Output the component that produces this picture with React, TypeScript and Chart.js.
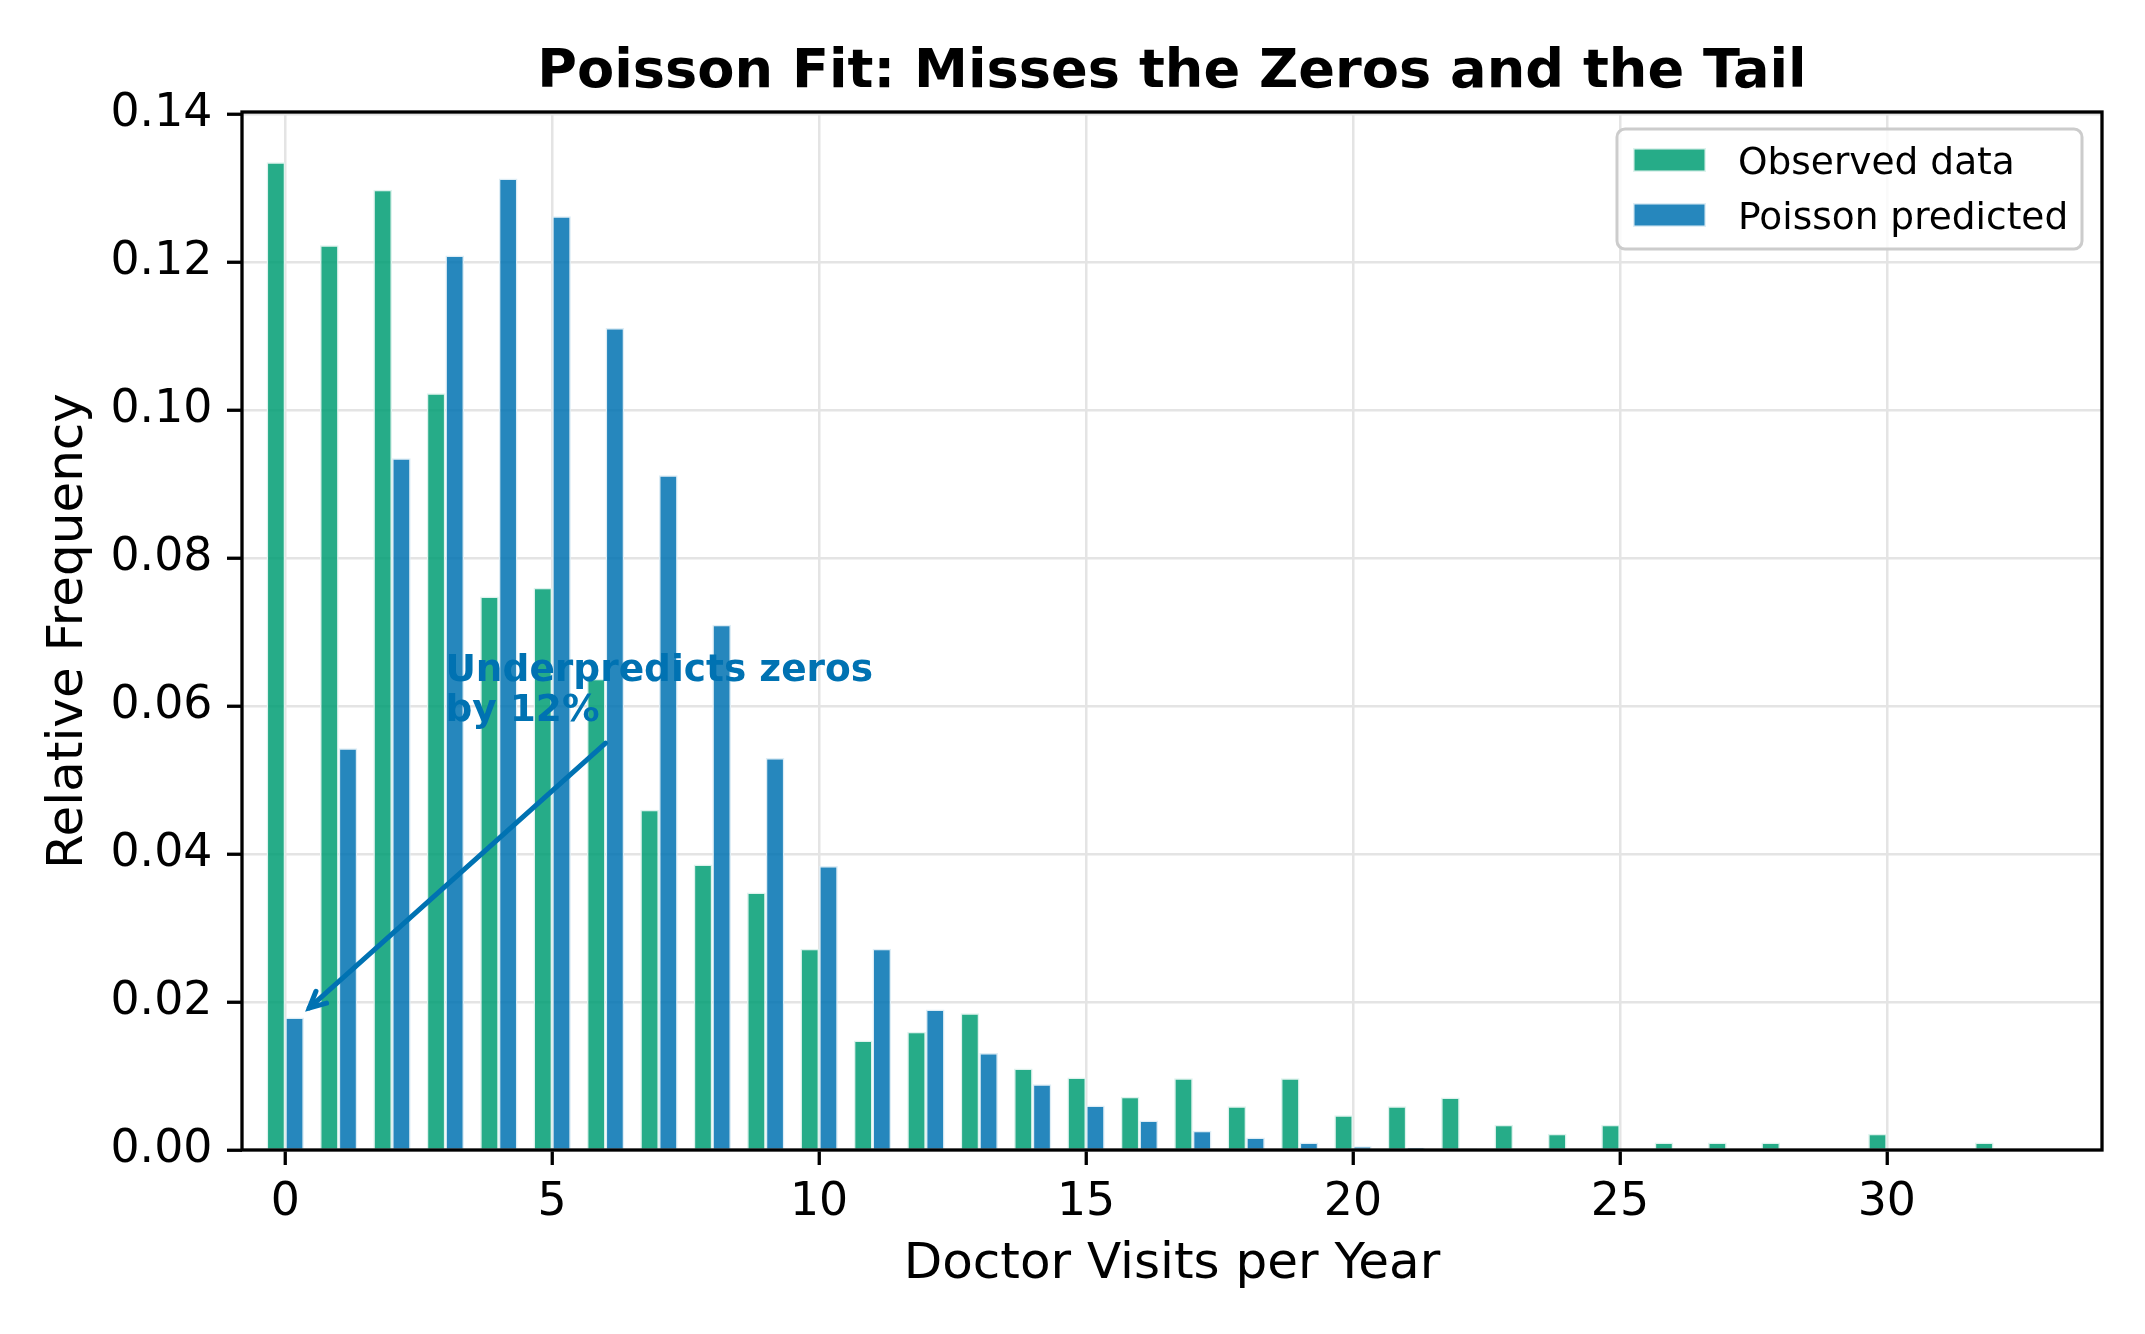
import React, { useEffect, useRef } from "react";
import { Chart, registerables } from "chart.js";

Chart.register(...registerables);

// ---------- data ----------
const visits = [
  0, 1, 2, 3, 4, 5, 6, 7, 8, 9, 10, 11, 12, 13, 14, 15, 16, 17, 18, 19, 20,
  21, 22, 23, 24, 25, 26, 27, 28, 29, 30, 31, 32,
];

const observedFreq = [
  0.1335, 0.1223, 0.1298, 0.1023, 0.0748, 0.076, 0.0637, 0.046, 0.0386,
  0.0348, 0.0272, 0.0148, 0.016, 0.0185, 0.011, 0.0098, 0.0072, 0.0097,
  0.0059, 0.0097, 0.0047, 0.0059, 0.0071, 0.0034, 0.0022, 0.0034, 0.001,
  0.001, 0.001, 0, 0.0022, 0, 0.001,
];

const poissonFreq = [
  0.0179, 0.0543, 0.0935, 0.1209, 0.1313, 0.1262, 0.1111, 0.0912, 0.071,
  0.053, 0.0384, 0.0272, 0.019, 0.0131, 0.0089, 0.006, 0.004, 0.0026,
  0.0017, 0.001, 0.0005, 0.0003, 0.0001, 0, 0, 0, 0, 0, 0, 0, 0, 0, 0,
];

const seriesLabels = ["Observed data", "Poisson predicted"];
const titleText = "Poisson Fit: Misses the Zeros and the Tail";
const xAxisLabel = "Doctor Visits per Year";
const yAxisLabel = "Relative Frequency";

const annotationLines = ["Underpredicts zeros", "by 12%"];
const annotationTextAt = [3, 0.058];
const annotationArrowFrom = [6, 0.055];
const annotationArrowTo = [0.45, 0.0192];

// ---------- style ----------
const FONT = "'DejaVu Sans', 'Noto Sans', sans-serif";
const GREEN = "rgba(0,158,115,0.85)";
const BLUE = "rgba(0,114,178,0.85)";
const GREEN_EDGE = "rgb(222,242,237)";
const BLUE_EDGE = "rgb(222,237,245)";
const ANN_COLOR = "#0072B2";

const W = 2145;
const H = 1334;

const titlePlugin = {
  id: "axesTitle",
  afterDraw(chart: any) {
    const { ctx, chartArea: a } = chart;
    ctx.save();
    ctx.fillStyle = "#000";
    ctx.font = `bold 54.2px ${FONT}`;
    ctx.textAlign = "center";
    ctx.textBaseline = "alphabetic";
    ctx.fillText(titleText, (a.left + a.right) / 2, 87);
    ctx.restore();
  },
};

const framePlugin = {
  id: "frame",
  afterDatasetsDraw(chart: any) {
    const { ctx, chartArea: a } = chart;
    ctx.save();
    ctx.strokeStyle = "#000";
    ctx.lineWidth = 3.3;
    ctx.strokeRect(a.left, a.top, a.right - a.left, a.bottom - a.top);
    ctx.restore();
  },
};

const annotationPlugin = {
  id: "annot",
  afterDatasetsDraw(chart: any) {
    const { ctx } = chart;
    const xs = chart.scales.x;
    const ys = chart.scales.y;
    ctx.save();
    ctx.fillStyle = ANN_COLOR;
    ctx.font = `bold 37.5px ${FONT}`;
    ctx.textAlign = "left";
    ctx.textBaseline = "alphabetic";
    const tx = xs.getPixelForValue(annotationTextAt[0]);
    const ty = ys.getPixelForValue(annotationTextAt[1]);
    const lineGap = 39.5;
    annotationLines.forEach((ln, i) => {
      ctx.fillText(ln, tx, ty - lineGap * (annotationLines.length - 1 - i));
    });
    const x1 = xs.getPixelForValue(annotationArrowFrom[0]);
    const y1 = ys.getPixelForValue(annotationArrowFrom[1]);
    const x2 = xs.getPixelForValue(annotationArrowTo[0]);
    const y2 = ys.getPixelForValue(annotationArrowTo[1]);
    ctx.strokeStyle = ANN_COLOR;
    ctx.lineWidth = 5;
    ctx.lineCap = "round";
    ctx.beginPath();
    ctx.moveTo(x1, y1);
    ctx.lineTo(x2, y2);
    ctx.stroke();
    const ang = Math.atan2(y1 - y2, x1 - x2);
    const hl = 18;
    const spread = 0.46;
    ctx.beginPath();
    ctx.moveTo(x2 + hl * Math.cos(ang + spread), y2 + hl * Math.sin(ang + spread));
    ctx.lineTo(x2, y2);
    ctx.lineTo(x2 + hl * Math.cos(ang - spread), y2 + hl * Math.sin(ang - spread));
    ctx.stroke();
    ctx.restore();
  },
};

const legendPlugin = {
  id: "boxLegend",
  afterDraw(chart: any) {
    const { ctx, chartArea: a } = chart;
    const boxW = 465;
    const boxH = 120;
    const x0 = a.right - 20 - boxW;
    const y0 = a.top + 17;
    ctx.save();
    ctx.beginPath();
    (ctx as any).roundRect(x0, y0, boxW, boxH, 8);
    ctx.fillStyle = "rgba(255,255,255,0.8)";
    ctx.fill();
    ctx.strokeStyle = "#cccccc";
    ctx.lineWidth = 3;
    ctx.stroke();
    ctx.font = `37.5px ${FONT}`;
    ctx.textAlign = "left";
    ctx.textBaseline = "middle";
    chart.data.datasets.forEach((ds: any, i: number) => {
      const py = y0 + 19 + i * 55;
      ctx.fillStyle = "#fff";
      ctx.fillRect(x0 + 16, py, 73, 24);
      ctx.fillStyle = ds.backgroundColor;
      ctx.fillRect(x0 + 16, py, 73, 24);
      ctx.strokeStyle = ds.borderColor;
      ctx.lineWidth = 1.5;
      ctx.strokeRect(x0 + 16.75, py + 0.75, 71.5, 22.5);
      ctx.fillStyle = "#000";
      ctx.fillText(ds.label, x0 + 121, py + 16);
    });
    ctx.restore();
  },
};

export default function App() {
  const canvasRef = useRef<HTMLCanvasElement | null>(null);

  useEffect(() => {
    if (!canvasRef.current) return;
    const chart = new Chart(canvasRef.current, {
      type: "bar",
      data: {
        datasets: [
          {
            label: seriesLabels[0],
            data: visits.map((v, i) => ({ x: v, y: observedFreq[i] })),
            backgroundColor: GREEN,
            borderColor: GREEN_EDGE,
            borderWidth: 1.5,
            categoryPercentage: 0.7,
            barPercentage: 1.0,
          },
          {
            label: seriesLabels[1],
            data: visits.map((v, i) => ({ x: v, y: poissonFreq[i] })),
            backgroundColor: BLUE,
            borderColor: BLUE_EDGE,
            borderWidth: 1.5,
            categoryPercentage: 0.7,
            barPercentage: 1.0,
          },
        ] as any,
      },
      options: {
        animation: false,
        responsive: false,
        devicePixelRatio: 1,
        layout: { padding: { left: 0, right: 43, top: 112, bottom: 0 } },
        plugins: {
          legend: { display: false },
          tooltip: { enabled: false },
          title: { display: false },
        },
        scales: {
          x: {
            type: "linear",
            min: -0.81,
            max: 34.03,
            offset: false,
            grid: {
              offset: false,
              color: "#e4e4e4",
              lineWidth: 2.5,
              tickColor: "#000",
              tickWidth: 3.3,
              tickLength: 15,
              drawTicks: true,
            },
            border: { display: false },
            ticks: {
              stepSize: 5,
              includeBounds: false,
              autoSkip: false,
              maxRotation: 0,
              color: "#000",
              padding: 11,
              font: { family: FONT, size: 45.8 },
              callback: (v: any) => String(v),
            },
            title: {
              display: true,
              text: xAxisLabel,
              color: "#000",
              font: { family: FONT, size: 50, lineHeight: 1.2 },
              padding: { top: 0, bottom: 38.5 },
            },
            afterFit: (scale: any) => {
              scale.height = 184;
            },
          },
          y: {
            type: "linear",
            min: 0,
            max: 0.1403,
            grid: {
              color: "#e4e4e4",
              lineWidth: 2.5,
              tickColor: "#000",
              tickWidth: 3.3,
              tickLength: 15,
              drawTicks: true,
            },
            border: { display: false },
            ticks: {
              stepSize: 0.02,
              includeBounds: false,
              color: "#000",
              padding: 14.6,
              font: { family: FONT, size: 45.8 },
              callback: (v: any) => Number(v).toFixed(2),
            },
            title: {
              display: true,
              text: yAxisLabel,
              color: "#000",
              font: { family: FONT, size: 50, lineHeight: 1.2 },
              padding: { top: 38.7, bottom: 0 },
            },
            afterFit: (scale: any) => {
              scale.width = 242;
            },
          },
        },
      } as any,
      plugins: [framePlugin, annotationPlugin, legendPlugin, titlePlugin],
    });
    return () => chart.destroy();
  }, []);

  return (
    <div
      style={{
        position: "absolute",
        left: 0,
        top: 0,
        width: W,
        height: H,
        background: "#fff",
      }}
    >
      <canvas
        ref={canvasRef}
        width={W}
        height={H}
        style={{ width: W, height: H, display: "block" }}
      />
    </div>
  );
}
